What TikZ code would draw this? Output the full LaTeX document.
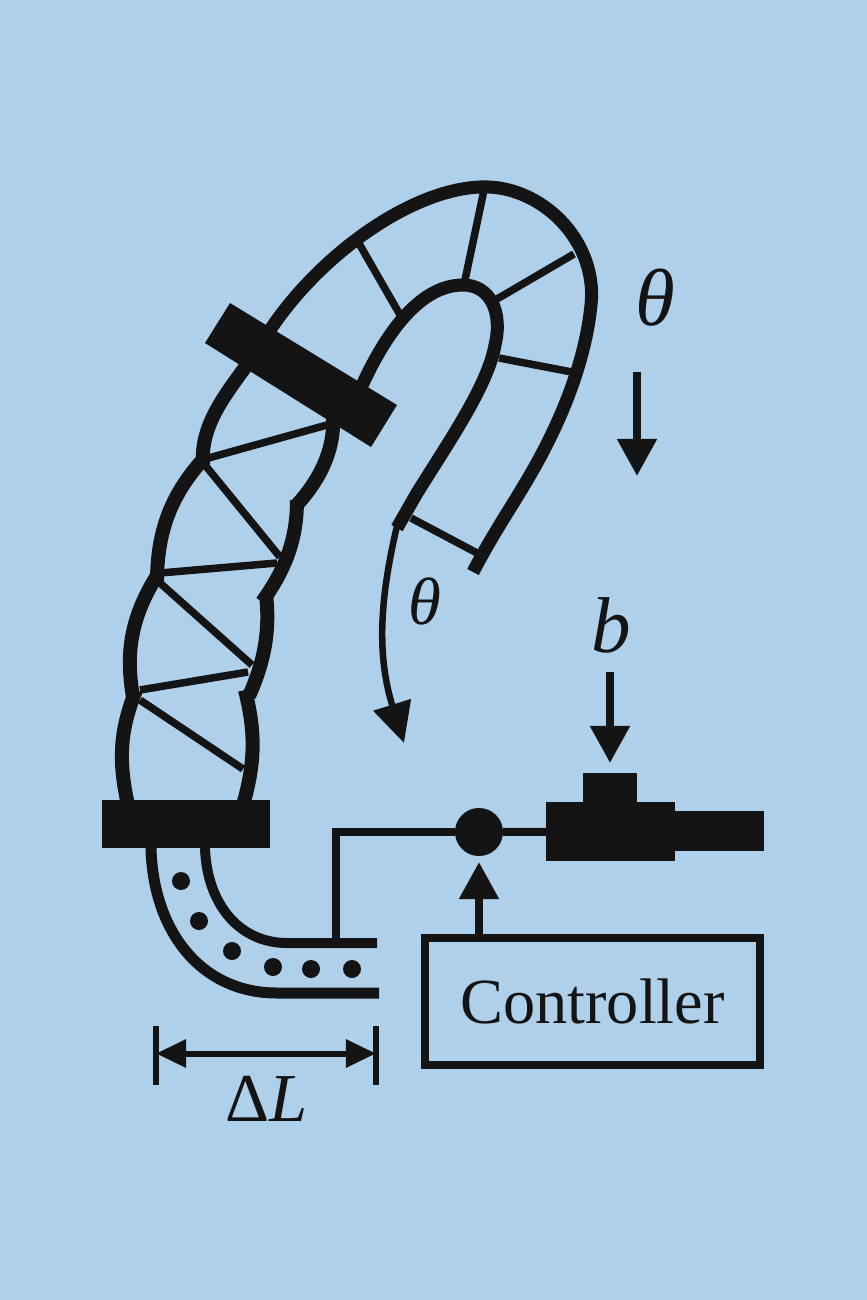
\documentclass[tikz,border=0pt]{standalone}
\usepackage{fontspec}
\setmainfont{Liberation Serif}
\usetikzlibrary{arrows.meta}
\definecolor{skyback}{HTML}{AFD0EB}
\definecolor{ink}{HTML}{141414}

\begin{document}
\begin{tikzpicture}[x=0.01cm, y=-0.01cm, ink,
        wall/.style={draw=ink, line width=0.14cm},
        rib/.style={draw=ink, line width=0.075cm},
        wire/.style={draw=ink, line width=0.08cm},
        block/.style={fill=ink, inner sep=0pt, outer sep=0pt},
        bigarrow/.style={wire, -{Triangle[length=0.37cm, width=0.38cm]}},
        dimarrow/.style={draw=ink, line width=0.06cm, {Triangle[length=0.3cm, width=0.27cm]}-{Triangle[length=0.3cm, width=0.27cm]}}]
    % Background
    \fill[skyback] (0,0) rectangle (867,1300);
    \useasboundingbox (0,0) rectangle (867,1300);

    % Draw arm lobes
    \draw[wall] (128,805) .. controls (118,760) and (120,730) .. (136,690);
    \draw[wall] (133,697) .. controls (125,650) and (132,615) .. (158,574);
    \draw[wall] (157,582) .. controls (157,525) and (175,490) .. (206,456);
    \draw[wall] (203,465) .. controls (200,425) and (225,395) .. (252,358);
    \draw[wall] (243,805) .. controls (256,760) and (255,730) .. (245,690);
    \draw[wall] (249,696) .. controls (265,660) and (270,630) .. (266,594);
    \draw[wall] (262,602) .. controls (285,570) and (297,540) .. (297,500);
    \draw[wall] (295,507) .. controls (320,480) and (335,450) .. (333,415);

    % Draw upper arm
    \draw[wall, line width=0.13cm] (270,330) .. controls (320,255) and (410,190) .. (480,187)
        .. controls (540,184) and (598,240) .. (591,305)
        .. controls (584,375) and (550,440) .. (533,470)
        .. controls (510,510) and (495,530) .. (473,572);
    \draw[wall, line width=0.13cm] (360,390) .. controls (380,345) and (415,285) .. (463,285)
        .. controls (490,285) and (503,312) .. (495,345)
        .. controls (488,385) and (450,440) .. (417,493) -- (397,528);

    % Draw ribs
    \draw[rib] (205,459) -- (327,425);
    \draw[rib] (205,465) -- (280,557);
    \draw[rib] (160,573) -- (277,563);
    \draw[rib] (160,583) -- (252,665);
    \draw[rib] (140,690) -- (248,672);
    \draw[rib] (140,700) -- (243,769);
    \draw[rib] (357,240) -- (403,320);
    \draw[rib] (484,190) -- (465,280);
    \draw[rib] (574,254) -- (497,299);
    \draw[rib] (577,373) -- (499,358);
    \draw[rib] (411,518) -- (477,553);

    % Draw clamps
    \fill[ink] (230,303) -- (397,405) -- (371,447) -- (205,343) -- cycle;
    \node (clamp) [block, minimum width=1.68cm, minimum height=0.48cm] at (186,824) {};

    % Draw tube
    \draw[wall, line width=0.11cm] (clamp.south -| 151,849) .. controls (153,930) and (200,993) .. (277,993) -- (379,993);
    \draw[wall, line width=0.10cm] (clamp.south -| 205,849) .. controls (207,905) and (240,943) .. (287,943) -- (377,943);
    \fill[ink] (181,881) circle (9);
    \fill[ink] (199,921) circle (9);
    \fill[ink] (232,951) circle (9);
    \fill[ink] (273,967) circle (9);
    \fill[ink] (311,969) circle (9);
    \fill[ink] (352,969) circle (9);

    % Place control parts
    \node (sum) [block, circle, minimum size=0.48cm] at (479,832) {};
    \node (valve) [block, minimum width=1.29cm, minimum height=0.59cm] at (610.5,831.5) {};
    \node (valvetop) [block, minimum width=0.54cm, minimum height=0.3cm] at (610,788) {};
    \node (valveend) [block, minimum width=0.89cm, minimum height=0.4cm] at (719.5,831) {};
    \node (ctrl) [draw=ink, line width=0.08cm, minimum width=3.35cm, minimum height=1.27cm, font=\fontsize{18.3}{22}\selectfont] at (592.5,1001.5) {Controller};
    \coordinate (tubetap) at (336,943);
    \coordinate (bstart) at (610,672);
    \coordinate (thetastart) at (637,372);
    \coordinate (thetaend) at (637,476);

    % Draw wires and arrows
    \draw[wire] (tubetap) |- (sum);
    \draw[wire] (sum) -- (valve);
    \draw[bigarrow] (ctrl.north -| sum) -- (479,862);
    \draw[bigarrow] (bstart) -- (610,763);
    \draw[bigarrow] (thetastart) -- (thetaend);
    \draw[draw=ink, line width=0.065cm, -{Triangle[length=0.4cm, width=0.38cm]}] (397,526) .. controls (382,590) and (375,650) .. (404,743);

    % Draw dimension
    \coordinate (dimleft) at (156,1053.5);
    \coordinate (dimright) at (376,1053.5);
    \draw[rib, line width=0.06cm] (156,1026) -- (156,1085);
    \draw[rib, line width=0.06cm] (376,1026) -- (376,1085);
    \draw[dimarrow] (dimleft) -- (dimright);

    % Labels
    \node (thetatop) [font=\fontsize{23}{28}\selectfont\itshape] at (655,298) {θ};
    \node (thetalow) [font=\fontsize{19}{23}\selectfont\itshape] at (425,601) {θ};
    \node (blabel) [font=\fontsize{22.5}{27}\selectfont\itshape] at (611,625) {b};
    \node (dl) [font=\fontsize{19.5}{24}\selectfont] at (267,1099) {Δ\textit{L}};
\end{tikzpicture}
\end{document}
